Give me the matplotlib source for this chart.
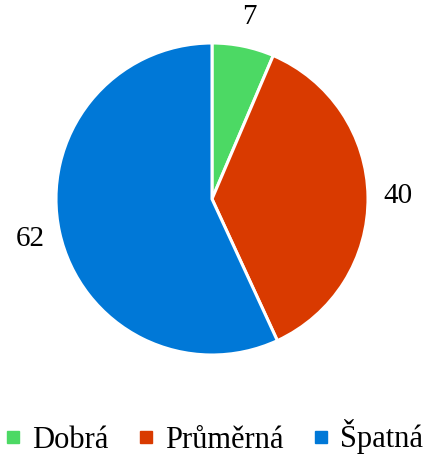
import matplotlib.pyplot as plt
from matplotlib.lines import Line2D

plt.rcParams['font.family'] = ['Liberation Serif', 'DejaVu Serif']

categories = ['Dobrá', 'Průměrná', 'Špatná']
values = [7, 40, 62]
colors = ['#4cd964', '#d93a00', '#0078d7']

fig = plt.figure(figsize=(4.27, 4.54), dpi=100)
# pie area: centre ~ (212, 199) px, radius ~156 px
r = 156
cx, cy = 212, 454 - 199
ax = fig.add_axes([(cx - r) / 427, (cy - r) / 454, 2 * r / 427, 2 * r / 454])

wedges, texts = ax.pie(values, colors=colors, startangle=90, counterclock=False,
                       labels=[str(v) for v in values], labeldistance=1.19,
                       wedgeprops=dict(edgecolor='white', linewidth=2.2),
                       textprops=dict(fontsize=21))
for t in texts:
    t.set_ha('center')
ax.set_xlim(-1, 1)
ax.set_ylim(-1, 1)
ax.set_aspect('equal')

handles = [Line2D([], [], marker='s', linestyle='none', markersize=8,
                  markerfacecolor=c, markeredgecolor=c) for c in colors]
fig.legend(handles, categories, loc='center', bbox_to_anchor=(0.5, 1 - 437 / 454),
           ncol=3, frameon=False, fontsize=22, handletextpad=0.3,
           columnspacing=0.95, handlelength=0.6)

fig.savefig('out.png', dpi=100)
